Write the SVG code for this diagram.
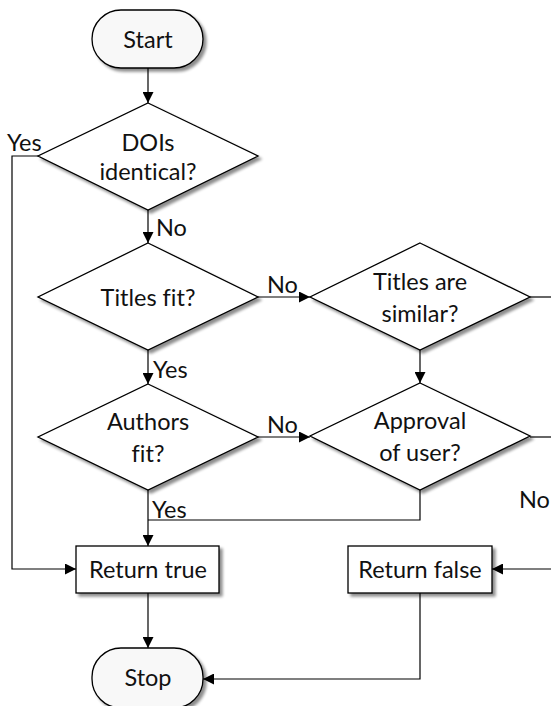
<svg xmlns="http://www.w3.org/2000/svg" width="551" height="706" viewBox="0 0 551 706">
  <defs>
    <filter id="shadow" x="-10%" y="-10%" width="130%" height="140%">
      <feGaussianBlur in="SourceAlpha" stdDeviation="1.6"/>
      <feOffset dx="2.5" dy="2.5" result="blur"/>
      <feComponentTransfer><feFuncA type="linear" slope="0.45"/></feComponentTransfer>
      <feMerge><feMergeNode/><feMergeNode in="SourceGraphic"/></feMerge>
    </filter>
    <marker id="arrow" viewBox="0 0 10 10" refX="10" refY="5" markerWidth="11" markerHeight="11" markerUnits="userSpaceOnUse" orient="auto">
      <path d="M0,0 L10,5 L0,10 z" fill="#000"/>
    </marker>
  </defs>
  <style>
    .shape { fill: #fff; stroke: #000; stroke-width: 1.3; filter: url(#shadow); }
    .term { fill: #f8f8f8; }
    .edge { fill: none; stroke: #000; stroke-width: 1.2; }
    .arr { marker-end: url(#arrow); }
    text { font-family: "Lato", "Liberation Sans", sans-serif; font-size: 23.5px; fill: #111; font-variant-ligatures: none; }
    .c { text-anchor: middle; }
  </style>
  <rect width="551" height="706" fill="#fff"/>

  <!-- connectors -->
  <g id="connectors">
    <path class="edge arr" d="M148,68 V103"/>
    <path class="edge arr" d="M38,156 H12 V569 H76"/>
    <path class="edge arr" d="M148,210 V243"/>
    <path class="edge arr" d="M258,297 H310"/>
    <path class="edge" d="M530,297 H551"/>
    <path class="edge arr" d="M148,350 V384"/>
    <path class="edge arr" d="M420,350 V383"/>
    <path class="edge arr" d="M258,437 H310"/>
    <path class="edge" d="M530,437 H551"/>
    <path class="edge arr" d="M148,490 V546"/>
    <path class="edge" d="M420,490 V520 H148"/>
    <path class="edge arr" d="M551,569 H492"/>
    <path class="edge arr" d="M148,593 V648"/>
    <path class="edge arr" d="M420,593 V679 H203"/>
    <text x="7" y="151">Yes</text>
    <text x="156" y="236">No</text>
    <text x="267" y="293">No</text>
    <text x="153" y="378">Yes</text>
    <text x="267" y="433">No</text>
    <text x="152" y="518">Yes</text>
    <text x="519" y="508">No</text>
  </g>

  <g id="start">
    <rect class="shape term" x="92" y="10" width="111" height="58" rx="29"/>
    <text class="c" x="148" y="48">Start</text>
  </g>

  <g id="dois">
    <polygon class="shape" points="148,103 258,156 148,210 38,156"/>
    <text class="c" x="148" y="151">DOIs</text>
    <text class="c" x="148" y="180">identical?</text>
  </g>

  <g id="titles-fit">
    <polygon class="shape" points="148,243 258,297 148,350 38,297"/>
    <text class="c" x="148" y="306">Titles fit?</text>
  </g>

  <g id="titles-similar">
    <polygon class="shape" points="420,243 530,297 420,350 310,297"/>
    <text class="c" x="420" y="290">Titles are</text>
    <text class="c" x="420" y="322">similar?</text>
  </g>

  <g id="authors-fit">
    <polygon class="shape" points="148,384 258,437 148,490 38,437"/>
    <text class="c" x="148" y="430">Authors</text>
    <text class="c" x="148" y="462">fit?</text>
  </g>

  <g id="approval">
    <polygon class="shape" points="420,383 530,436 420,490 310,436"/>
    <text class="c" x="420" y="429">Approval</text>
    <text class="c" x="420" y="461">of user?</text>
  </g>

  <g id="return-true">
    <rect class="shape" x="76" y="546" width="143" height="47"/>
    <text class="c" x="148" y="578">Return true</text>
  </g>

  <g id="return-false">
    <rect class="shape" x="348" y="546" width="144" height="47"/>
    <text class="c" x="420" y="578">Return false</text>
  </g>

  <g id="stop">
    <rect class="shape term" x="92" y="648" width="111" height="60" rx="29"/>
    <text class="c" x="148" y="686">Stop</text>
  </g>
</svg>
